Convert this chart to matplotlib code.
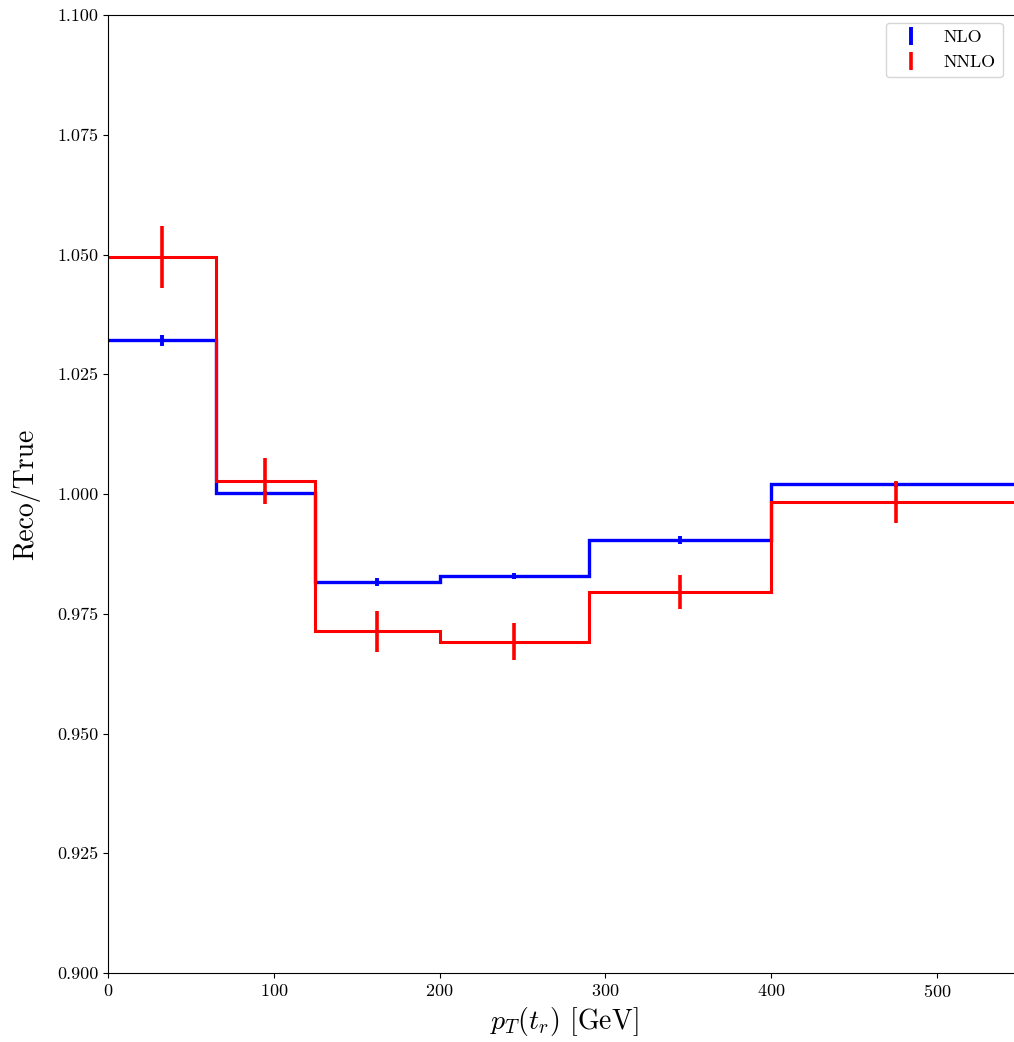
import numpy as np
import matplotlib
matplotlib.use("Agg")
import matplotlib.pyplot as plt

plt.rcParams['font.family'] = 'serif'
plt.rcParams['font.serif'] = ['cmr10', 'DejaVu Serif']
plt.rcParams['mathtext.fontset'] = 'cm'
plt.rcParams['axes.formatter.use_mathtext'] = True

# bin edges in pT(t_r) [GeV]
edges = np.array([0, 65, 125, 200, 290, 400, 550])
centers = 0.5 * (edges[1:] + edges[:-1])

# Reco/True ratio and stat. uncertainties
nlo = np.array([1.0321, 1.0003, 0.9817, 0.9829, 0.9904, 1.0020])
nlo_err = np.array([0.0012, 0.0004, 0.0008, 0.0006, 0.0008, 0.0006])
nnlo = np.array([1.0495, 1.0028, 0.9713, 0.9692, 0.9795, 0.9984])
nnlo_err = np.array([0.0064, 0.0048, 0.0043, 0.0038, 0.0036, 0.0044])

fig = plt.figure(figsize=(10.14, 10.42), dpi=100)
ax = fig.add_axes([0.1065, 0.0662, 0.8993, 0.9194])

ax.stairs(nlo, edges, baseline=None, color='blue', linewidth=2.4)
ax.errorbar(centers, nlo, yerr=nlo_err, fmt='none', ecolor='blue', elinewidth=2.8, label='NLO')
ax.stairs(nnlo, edges, baseline=None, color='red', linewidth=2.2)
ax.errorbar(centers, nnlo, yerr=nnlo_err, fmt='none', ecolor='red', elinewidth=2.6, label='NNLO')

ax.set_xlim(0, 550)
ax.set_ylim(0.9, 1.1)
ax.set_yticks(np.arange(0.9, 1.1001, 0.025))
ax.set_yticklabels([f"{v:.3f}" for v in np.arange(0.9, 1.1001, 0.025)])
ax.set_xticks([0, 100, 200, 300, 400, 500])
ax.tick_params(labelsize=13)
ax.set_xlabel(r'$p_T(t_r)$ [GeV]', fontsize=20, labelpad=4)
ax.set_ylabel('Reco/True', fontsize=20, labelpad=12)

ax.legend(loc='upper right', bbox_to_anchor=(0.998, 0.987), bbox_transform=fig.transFigure,
          fontsize=13)

fig.savefig('out.png', dpi=100)
